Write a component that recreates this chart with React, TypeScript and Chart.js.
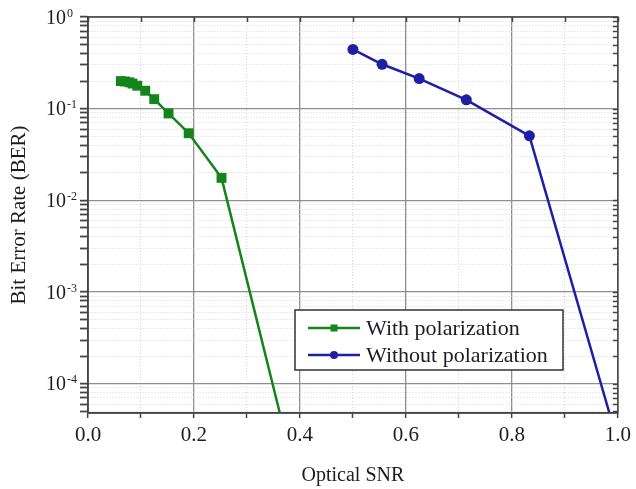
import React, { useEffect, useRef } from 'react';
import { Chart, registerables } from 'chart.js';

Chart.register(...registerables);

// ---- data ----
const withPolX = [0.062, 0.070, 0.078, 0.084, 0.093, 0.108, 0.125, 0.152, 0.190, 0.252, 0.362];
const withPolY = [0.200, 0.198, 0.194, 0.188, 0.178, 0.157, 0.127, 0.0887, 0.054, 0.0176, 4.8e-5];
const withoutPolX = [0.500, 0.555, 0.625, 0.714, 0.833, 0.984];
const withoutPolY = [0.443, 0.305, 0.213, 0.125, 0.0506, 4.8e-5];
const seriesLabels = ['With polarization', 'Without polarization'];
const xTickValues = [0, 0.1, 0.2, 0.3, 0.4, 0.5, 0.6, 0.7, 0.8, 0.9, 1.0];
const xTickLabels = ['0.0', '', '0.2', '', '0.4', '', '0.6', '', '0.8', '', '1.0'];
const yDecadeExps = [-4, -3, -2, -1, 0];
const yMinorMultipliers = [1, 2, 3, 4, 5, 6, 7, 8, 9];
const yMin = 4.8e-5;
const yMax = 1;
const xTitle = 'Optical SNR';
const yTitle = 'Bit Error Rate (BER)';

const GREEN = '#13851a';
const BLUE = '#1f1fa6';
const TEXT = '#1c1c26';
const SERIF = '"Liberation Serif", "Times New Roman", serif';
const MAJOR_GRID = '#8e8e8e';
const MINOR_GRID = '#d6d6d6';

const yTickValues: number[] = [];
for (let e = -5; e <= 0; e++) {
  for (const m of yMinorMultipliers) {
    const v = m * Math.pow(10, e);
    if (v >= yMin * 0.999 && v <= yMax * 1.001) yTickValues.push(v);
  }
}

const isMajorX = (v: number) => Math.round(v * 10) % 2 === 0;
const isMajorY = (v: number) => {
  const l = Math.log10(v);
  return Math.abs(l - Math.round(l)) < 1e-6;
};

const framePlugin = {
  id: 'frame',
  afterDatasetsDraw(chart: any) {
    const { ctx, chartArea: a, scales } = chart;
    ctx.save();
    ctx.strokeStyle = '#444';
    ctx.lineWidth = 1.5;
    for (const v of xTickValues) {
      const px = Math.round(scales.x.getPixelForValue(v)) + 0.5;
      ctx.beginPath();
      ctx.moveTo(px, a.top);
      ctx.lineTo(px, a.top + 5);
      ctx.stroke();
    }
    for (const v of yTickValues) {
      const py = Math.round(scales.y.getPixelForValue(v)) + 0.5;
      ctx.beginPath();
      ctx.moveTo(a.right - 5, py);
      ctx.lineTo(a.right, py);
      ctx.stroke();
    }
    ctx.strokeRect(a.left, a.top, a.right - a.left, a.bottom - a.top);
    ctx.restore();
  },
  afterDraw(chart: any) {
    const { ctx, chartArea: a, scales } = chart;
    ctx.save();
    // y tick labels 10^n
    ctx.fillStyle = TEXT;
    for (const e of yDecadeExps) {
      const py = scales.y.getPixelForValue(Math.pow(10, e));
      ctx.font = `20px ${SERIF}`;
      ctx.textAlign = 'right';
      ctx.textBaseline = 'alphabetic';
      ctx.fillText('10', a.left - 22, py + 6.5);
      ctx.font = `12px ${SERIF}`;
      ctx.textAlign = 'left';
      ctx.fillText(String(e), a.left - 21, py - 0.5);
    }
    // legend
    const bx = a.left + 207;
    const by = a.top + 293;
    const bw = 268;
    const bh = 60;
    ctx.fillStyle = '#ffffff';
    ctx.fillRect(bx, by, bw, bh);
    ctx.strokeStyle = '#333';
    ctx.lineWidth = 1.5;
    ctx.strokeRect(bx, by, bw, bh);
    const rows = [
      { label: seriesLabels[0], color: GREEN, style: 'rect', y: by + 18 },
      { label: seriesLabels[1], color: BLUE, style: 'circle', y: by + 45 },
    ];
    for (const r of rows) {
      ctx.strokeStyle = r.color;
      ctx.lineWidth = 2.5;
      ctx.beginPath();
      ctx.moveTo(bx + 13, r.y);
      ctx.lineTo(bx + 65, r.y);
      ctx.stroke();
      ctx.fillStyle = r.color;
      if (r.style === 'rect') {
        ctx.fillRect(bx + 39 - 3.5, r.y - 3.5, 7, 7);
      } else {
        ctx.beginPath();
        ctx.arc(bx + 39, r.y, 4, 0, Math.PI * 2);
        ctx.fill();
      }
      ctx.fillStyle = TEXT;
      ctx.font = `22px ${SERIF}`;
      ctx.textAlign = 'left';
      ctx.textBaseline = 'middle';
      ctx.fillText(r.label, bx + 71, r.y + 1);
    }
    ctx.restore();
  },
};

export default function App() {
  const canvasRef = useRef<HTMLCanvasElement | null>(null);

  useEffect(() => {
    if (!canvasRef.current) return;
    const n1 = withPolX.length;
    const n2 = withoutPolX.length;
    const chart = new Chart(canvasRef.current, {
      type: 'line',
      data: {
        datasets: [
          {
            label: seriesLabels[0],
            data: withPolX.map((x, i) => ({ x, y: withPolY[i] })),
            borderColor: GREEN,
            backgroundColor: GREEN,
            borderWidth: 2.5,
            pointStyle: 'rect',
            pointRadius: withPolX.map((_, i) => (i === n1 - 1 ? 0 : 7)),
            pointBorderWidth: 0,
            tension: 0,
          },
          {
            label: seriesLabels[1],
            data: withoutPolX.map((x, i) => ({ x, y: withoutPolY[i] })),
            borderColor: BLUE,
            backgroundColor: BLUE,
            borderWidth: 2.5,
            pointStyle: 'circle',
            pointRadius: withoutPolX.map((_, i) => (i === n2 - 1 ? 0 : 5.5)),
            pointBorderWidth: 0,
            tension: 0,
          },
        ],
      },
      options: {
        animation: false,
        responsive: false,
        devicePixelRatio: 1,
        layout: { padding: { left: 0, top: 17, right: 14, bottom: 0 } },
        plugins: {
          legend: { display: false },
          tooltip: { enabled: false },
        },
        scales: {
          x: {
            type: 'linear',
            min: 0,
            max: 1,
            afterBuildTicks: (scale: any) => {
              scale.ticks = xTickValues.map((v) => ({ value: v }));
            },
            afterFit: (scale: any) => {
              scale.height = 76;
            },
            ticks: {
              autoSkip: false,
              maxRotation: 0,
              padding: 5,
              color: TEXT,
              font: { family: SERIF, size: 21 },
              callback: (_v: any, i: number) => xTickLabels[i],
            },
            grid: {
              color: (c: any) => (c.tick && isMajorX(c.tick.value) ? MAJOR_GRID : MINOR_GRID),
              lineWidth: (c: any) => (c.tick && isMajorX(c.tick.value) ? 1.3 : 1),
              tickLength: 5,
              tickColor: '#444',
              tickWidth: 1.5,
            },
            border: {
              display: true,
              color: '#444',
              width: 1.5,
              dash: (c: any) => (c.tick && !isMajorX(c.tick.value) ? [1, 2] : []),
            },
            title: {
              display: true,
              text: xTitle,
              color: TEXT,
              font: { family: SERIF, size: 20 },
              padding: { top: 0, bottom: 1 },
            },
          },
          y: {
            type: 'logarithmic',
            min: yMin,
            max: yMax,
            afterBuildTicks: (scale: any) => {
              scale.ticks = yTickValues.map((v) => ({ value: v }));
            },
            afterFit: (scale: any) => {
              scale.width = 88;
            },
            ticks: {
              display: false,
              autoSkip: false,
            },
            grid: {
              color: (c: any) => (c.tick && isMajorY(c.tick.value) ? MAJOR_GRID : MINOR_GRID),
              lineWidth: (c: any) => (c.tick && isMajorY(c.tick.value) ? 1.3 : 1),
              tickLength: 8,
              tickColor: '#444',
              tickWidth: 1.8,
            },
            border: {
              display: true,
              color: '#444',
              width: 1.5,
              dash: (c: any) => (c.tick && !isMajorY(c.tick.value) ? [1, 2] : []),
            },
            title: {
              display: true,
              text: yTitle,
              color: TEXT,
              font: { family: SERIF, size: 21 },
              padding: { top: 7, bottom: 0 },
            },
          },
        },
      },
      plugins: [framePlugin],
    } as any);
    return () => chart.destroy();
  }, []);

  return (
    <div style={{ position: 'fixed', left: 0, top: 0, width: 636, height: 489, background: '#fff' }}>
      <canvas ref={canvasRef} width={636} height={489} style={{ display: 'block' }} />
    </div>
  );
}
